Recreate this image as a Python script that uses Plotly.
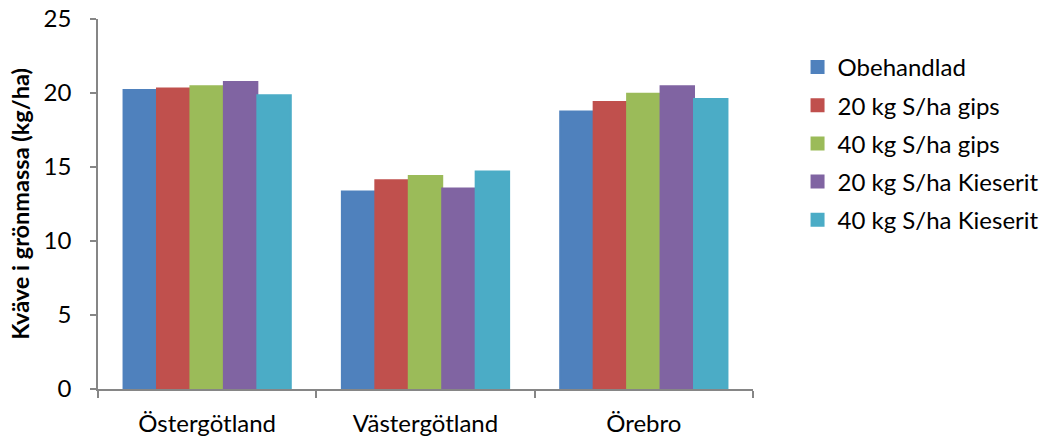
import plotly.graph_objects as go

# Regions on the x axis
regions = ["Östergötland", "Västergötland", "Örebro"]

# Nitrogen in green mass (kg/ha) per treatment
obehandlad = [20.2, 13.35, 18.75]
gips_20 = [20.3, 14.1, 19.4]
gips_40 = [20.45, 14.4, 19.95]
kieserit_20 = [20.75, 13.55, 20.45]
kieserit_40 = [19.85, 14.7, 19.6]

series_names = ["Obehandlad", "20 kg S/ha gips", "40 kg S/ha gips",
                "20 kg S/ha Kieserit", "40 kg S/ha Kieserit"]
series_values = [obehandlad, gips_20, gips_40, kieserit_20, kieserit_40]
colors = ["#4F81BD", "#C0504D", "#9BBB59", "#8064A2", "#4BACC6"]

font_family = "Lato, 'Open Sans', sans-serif"
axis_color = "#868686"

fig = go.Figure()
for i, (name, vals, col) in enumerate(zip(series_names, series_values, colors)):
    fig.add_trace(go.Bar(
        x=regions, y=vals, name=name, legendgroup=f"g{i}",
        marker=dict(color=col, line=dict(width=2, color=col)),
    ))

fig.update_layout(
    width=1042, height=439,
    margin=dict(l=98, r=289, t=19, b=50, autoexpand=False),
    paper_bgcolor="white", plot_bgcolor="white",
    barmode="group", bargap=0.234, bargroupgap=0,
    font=dict(family=font_family, size=24, color="black"),
    legend=dict(
        x=1.068, y=0.93, xanchor="left", yanchor="top",
        font=dict(size=24), traceorder="grouped", tracegroupgap=4,
        itemwidth=30,
    ),
    xaxis=dict(
        showline=True, linecolor=axis_color, linewidth=1.5,
        ticks="outside", tickson="boundaries", ticklen=7,
        tickcolor=axis_color, tickwidth=1.5,
        tickfont=dict(size=24), ticklabelstandoff=12, automargin=False,
    ),
    yaxis=dict(
        range=[0, 25], dtick=5, showgrid=False, zeroline=False,
        showline=True, linecolor=axis_color, linewidth=1.5,
        ticks="outside", ticklen=6, tickcolor=axis_color, tickwidth=1.5,
        tickfont=dict(size=24), ticklabelstandoff=14, automargin=False,
        title=dict(text="<b>Kväve i grönmassa (kg/ha)</b>",
                   font=dict(size=23.5), standoff=7),
    ),
)

fig.write_html("out.html")
